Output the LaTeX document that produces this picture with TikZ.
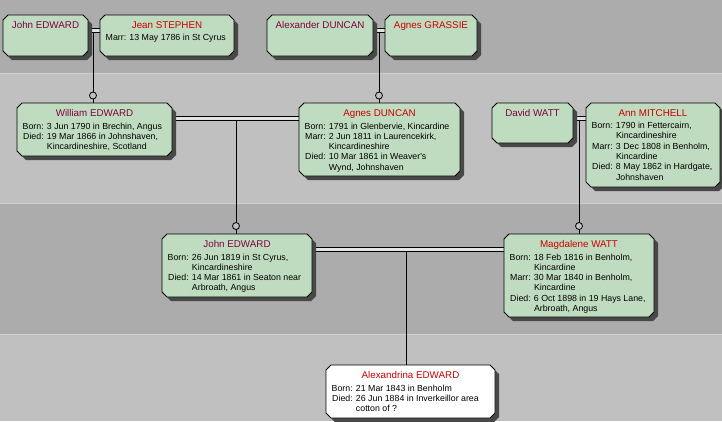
\documentclass[tikz,border=0pt]{standalone}
\usepackage{fontspec}
\setmainfont{Liberation Sans}
\usetikzlibrary{calc}
\definecolor{bandA}{HTML}{ACACAC}
\definecolor{bandB}{HTML}{C0C0C0}
\definecolor{bandline}{HTML}{D0D0D0}
\definecolor{boxfill}{HTML}{C0DCC0}
\definecolor{shadowc}{HTML}{484848}
\definecolor{malec}{HTML}{800040}
\definecolor{femalec}{HTML}{C80000}
\definecolor{gapc}{HTML}{E4E4E4}
\tikzset{
  oct/.style n args={4}{insert path={({#1+5},#2) -- ({#3-5},#2) -- (#3,{#2+5}) -- (#3,{#4-5}) -- ({#3-5},#4) -- ({#1+5},#4) -- (#1,{#4-5}) -- (#1,{#2+5}) -- cycle}},
  bodyf/.style={font=\fontsize{8.8bp}{10.3bp}\selectfont},
  titlef/.style={font=\fontsize{9.8bp}{12bp}\selectfont},
  conn/.style={draw=black, line width=1bp},
  dbl/.style={draw=black, line width=1bp, double=gapc, double distance=3bp},
  ring/.style={circle, draw=black, fill=bandB, line width=0.8bp, inner sep=0pt, minimum size=7bp},
  anchorbox/.style={inner sep=0pt, draw=none}
}
% name, x1, y1, x2, y2, fill
\newcommand{\famBox}[6]{%
  \fill[shadowc, shift={(4,4)}, oct={#2}{#3}{#4}{#5}];
  \filldraw[fill=#6, draw=black, line width=0.9bp, oct={#2}{#3}{#4}{#5}];
  \node[anchorbox, minimum width={(#4-#2)*1bp}, minimum height={(#5-#3)*1bp}] (#1) at ({(#2+#4)/2},{(#3+#5)/2}) {};
}
% name, x1, y1, x2, colour, text
\newcommand{\famTitle}[6]{%
  \node[titlef, anchor=base, inner sep=0pt, text=#5] (#1) at ({(#2+#4)/2},{#3+13}) {#6};
}
% name, x1, y1, tabular body
\newcommand{\famBody}[4]{%
  \node[bodyf, anchor=base west, inner sep=0pt] (#1) at ({#2+5.5},{#3+26}) {\begin{tabular}[t]{@{}r@{ }l@{}}#4\end{tabular}};
}
\begin{document}
\begin{tikzpicture}[x=1bp, y=-1bp]
\useasboundingbox (0,0) rectangle (722,421);
% background bands
\fill[bandA] (0,0) rectangle (722,73);
\fill[bandB] (0,73) rectangle (722,203);
\fill[bandA] (0,203) rectangle (722,334);
\fill[bandB] (0,334) rectangle (722,421);
\draw[bandline, line width=1bp] (0,73.5) -- (722,73.5);
\draw[bandline, line width=1bp] (0,203.5) -- (722,203.5);
\draw[bandline, line width=1bp] (0,334.5) -- (722,334.5);

% anchor nodes first (for connectors)
\node[anchorbox, minimum width=85bp, minimum height=41bp] (JE1) at (45.5,35.5) {};
\node[anchorbox, minimum width=134bp, minimum height=41bp] (JS) at (167,35.5) {};
\node[anchorbox, minimum width=106bp, minimum height=41bp] (AD) at (320,35.5) {};
\node[anchorbox, minimum width=92bp, minimum height=41bp] (AG) at (431,35.5) {};
\node[anchorbox, minimum width=155bp, minimum height=53bp] (WE) at (94.5,129.5) {};
\node[anchorbox, minimum width=161bp, minimum height=73bp] (AgD) at (379.5,139.5) {};
\node[anchorbox, minimum width=81bp, minimum height=40bp] (DW) at (532.5,123) {};
\node[anchorbox, minimum width=134bp, minimum height=84bp] (AM) at (653,145) {};
\node[anchorbox, minimum width=150bp, minimum height=63bp] (JE2) at (237,265.5) {};
\node[anchorbox, minimum width=150bp, minimum height=83bp] (MW) at (579,275.5) {};
\node[anchorbox, minimum width=169bp, minimum height=53bp] (AE) at (410.5,391.5) {};

% marriage points
\coordinate (m1) at (93,30);
\coordinate (m2) at (379,30);
\coordinate (m3) at (236,118);
\coordinate (m4) at (579,118);
\coordinate (m5) at (406,249);

% descent lines
\draw[conn] ([yshift=-2bp]m1) -- (m1 |- WE.north);
\draw[conn] ([yshift=-2bp]m2) -- (m2 |- AgD.north);
\draw[conn] ([yshift=-2bp]m3) -- (m3 |- JE2.north);
\draw[conn] ([yshift=-2bp]m4) -- (m4 |- MW.north);
\draw[conn] ([yshift=-2bp]m5) -- (m5 |- AE.north);
% marriage double lines
\draw[dbl] (JE1.east |- m1) -- (JS.west |- m1);
\draw[dbl] (AD.east |- m2) -- (AG.west |- m2);
\draw[dbl] (WE.east |- m3) -- (AgD.west |- m3);
\draw[dbl] (DW.east |- m4) -- (AM.west |- m4);
\draw[dbl] (JE2.east |- m5) -- (MW.west |- m5);

% boxes
\famBox{JE1b}{3}{15}{88}{56}{boxfill}
\famBox{JSb}{100}{15}{234}{56}{boxfill}
\famBox{ADb}{267}{15}{373}{56}{boxfill}
\famBox{AGb}{385}{15}{477}{56}{boxfill}
\famBox{WEb}{17}{103}{172}{156}{boxfill}
\famBox{AgDb}{299}{103}{460}{176}{boxfill}
\famBox{DWb}{492}{103}{573}{143}{boxfill}
\famBox{AMb}{586}{103}{720}{187}{boxfill}
\famBox{JE2b}{162}{234}{312}{297}{boxfill}
\famBox{MWb}{504}{234}{654}{317}{boxfill}
\famBox{AEb}{326}{365}{495}{418}{white}

% rings
\node[ring] (r1) at (m1 |- 0,95.5) {};
\node[ring] (r2) at (m2 |- 0,95.5) {};
\node[ring] (r3) at (m3 |- 0,226) {};
\node[ring] (r4) at (m4 |- 0,226) {};

% titles
\famTitle{JE1t}{3}{15}{88}{malec}{John EDWARD}
\famTitle{JSt}{100}{15}{234}{femalec}{Jean STEPHEN}
\famTitle{ADt}{267}{15}{373}{malec}{Alexander DUNCAN}
\famTitle{AGt}{385}{15}{477}{femalec}{Agnes GRASSIE}
\famTitle{WEt}{17}{103}{172}{malec}{William EDWARD}
\famTitle{AgDt}{299}{103}{460}{femalec}{Agnes DUNCAN}
\famTitle{DWt}{492}{103}{573}{malec}{David WATT}
\famTitle{AMt}{586}{103}{720}{femalec}{Ann MITCHELL}
\famTitle{JE2t}{162}{234}{312}{malec}{John EDWARD}
\famTitle{MWt}{504}{234}{654}{femalec}{Magdalene WATT}
\famTitle{AEt}{326}{365}{495}{femalec}{Alexandrina EDWARD}

% bodies
\famBody{JSd}{100}{14.5}{Marr: & 13 May 1786 in St Cyrus}
\famBody{WEd}{17}{103}{Born: & 3 Jun 1790 in Brechin, Angus\\ Died: & 19 Mar 1866 in Johnshaven,\\ & Kincardineshire, Scotland}
\famBody{AgDd}{299}{103}{Born: & 1791 in Glenbervie, Kincardine\\ Marr: & 2 Jun 1811 in Laurencekirk,\\ & Kincardineshire\\ Died: & 10 Mar 1861 in Weaver\textquotesingle s\\ & Wynd, Johnshaven}
\famBody{AMd}{586}{102.5}{Born: & 1790 in Fettercairn,\\ & Kincardineshire\\ Marr: & 3 Dec 1808 in Benholm,\\ & Kincardine\\ Died: & 8 May 1862 in Hardgate,\\ & Johnshaven}
\famBody{JE2d}{162}{234}{Born: & 26 Jun 1819 in St Cyrus,\\ & Kincardineshire\\ Died: & 14 Mar 1861 in Seaton near\\ & Arbroath, Angus}
\famBody{MWd}{504}{234}{Born: & 18 Feb 1816 in Benholm,\\ & Kincardine\\ Marr: & 30 Mar 1840 in Benholm,\\ & Kincardine\\ Died: & 6 Oct 1898 in 19 Hays Lane,\\ & Arbroath, Angus}
\famBody{AEd}{326}{365}{Born: & 21 Mar 1843 in Benholm\\ Died: & 26 Jun 1884 in Inverkeillor area\\ & cotton of ?}
\end{tikzpicture}
\end{document}
